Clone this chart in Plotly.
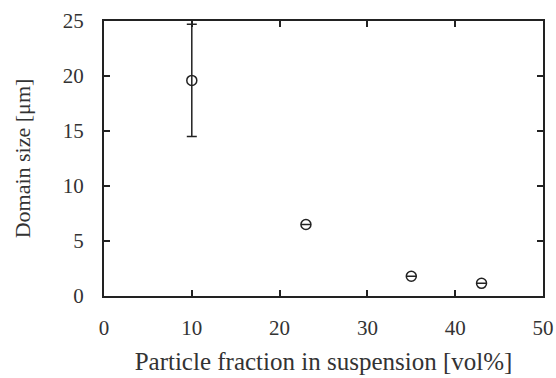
import plotly.graph_objects as go

fraction = [10, 23, 35, 43]
domain_size = [19.6, 6.5, 1.8, 1.15]
error = [5.1, 0, 0, 0]

fig = go.Figure()
fig.add_trace(go.Scatter(
    x=fraction, y=domain_size, mode="markers",
    marker=dict(symbol="circle-open", size=10, color="#222", line=dict(width=1.5)),
    error_y=dict(type="data", array=error, visible=True, color="#222", thickness=1.5, width=5),
    cliponaxis=False,
))
axis_common = dict(
    showline=True, linecolor="#222", linewidth=2, mirror="ticks",
    ticks="inside", ticklen=6, tickwidth=1.5, tickcolor="#222",
    showgrid=False, zeroline=False, automargin=False,
    tickfont=dict(family="Liberation Serif", size=21, color="#333"),
)
fig.update_xaxes(range=[0, 50], dtick=10, ticklabelstandoff=12, **axis_common,
                 title=dict(text="Particle fraction in suspension [vol%]",
                            font=dict(family="Liberation Serif", size=25, color="#333"), standoff=13))
fig.update_yaxes(range=[0, 25], dtick=5, ticklabelstandoff=14, **axis_common,
                 title=dict(text="Domain size [μm]",
                            font=dict(family="Liberation Serif", size=22, color="#333"), standoff=26))
fig.update_layout(
    width=556, height=378, margin=dict(l=104, r=13, t=21, b=82),
    paper_bgcolor="white", plot_bgcolor="white", showlegend=False,
)
fig.write_html("out.html")
